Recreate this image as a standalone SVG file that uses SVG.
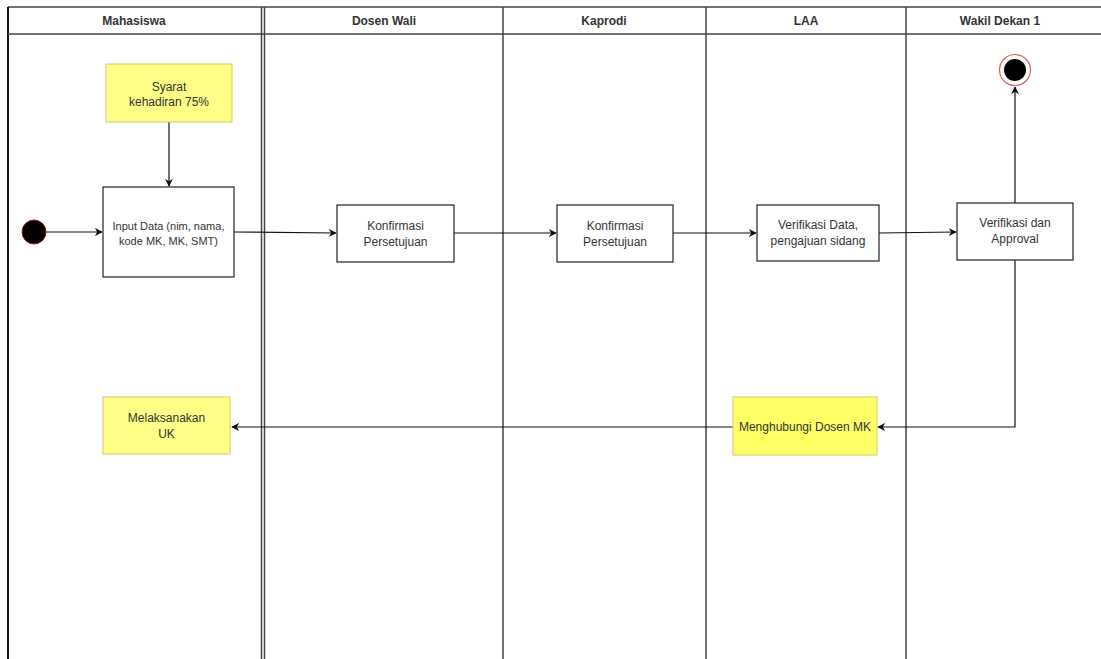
<svg xmlns="http://www.w3.org/2000/svg" width="1101" height="659" viewBox="0 0 1101 659">
<style>
.lane{fill:none;stroke:#444;stroke-width:1.5}
.hdr{font-family:"Liberation Sans",Arial,sans-serif;font-size:12px;font-weight:bold;fill:#333;text-anchor:middle}
.box{fill:#fff;stroke:#222;stroke-width:1.2}
.note{fill:#ffff88;stroke:#d6c86a;stroke-width:1}
.t{font-family:"Liberation Sans",Arial,sans-serif;font-size:12px;fill:#333;text-anchor:middle}
.c{fill:none;stroke:#111;stroke-width:1.2}
</style>
<defs>
<marker id="ah" viewBox="0 0 10 10" refX="9" refY="5" markerWidth="8" markerHeight="8" markerUnits="userSpaceOnUse" orient="auto">
<path d="M0,0 L10,5 L0,10 L3,5 Z" fill="#111"/>
</marker>
</defs>
<rect width="1101" height="659" fill="#fff"/>
<g id="lanes">
<line class="lane" x1="8" y1="7" x2="1101" y2="7"/>
<line class="lane" x1="8" y1="7" x2="8" y2="659" style="stroke:#111;stroke-width:2"/>
<line class="lane" x1="8" y1="34" x2="1101" y2="34"/>
<line class="lane" x1="261.5" y1="7" x2="261.5" y2="659"/>
<line class="lane" x1="264.5" y1="7" x2="264.5" y2="659"/>
<line class="lane" x1="503" y1="7" x2="503" y2="659"/>
<line class="lane" x1="706" y1="7" x2="706" y2="659"/>
<line class="lane" x1="906" y1="7" x2="906" y2="659"/>
<text class="hdr" x="134" y="25">Mahasiswa</text>
<text class="hdr" x="384" y="25">Dosen Wali</text>
<text class="hdr" x="604" y="25">Kaprodi</text>
<text class="hdr" x="806" y="25">LAA</text>
<text class="hdr" x="1000" y="25">Wakil Dekan 1</text>
</g>
<g id="connectors">
<line class="c" x1="46" y1="232" x2="102" y2="232" marker-end="url(#ah)"/>
<line class="c" x1="169" y1="122" x2="169" y2="186" marker-end="url(#ah)"/>
<line class="c" x1="234" y1="232" x2="336" y2="233" marker-end="url(#ah)"/>
<line class="c" x1="454" y1="233" x2="556" y2="233" marker-end="url(#ah)"/>
<line class="c" x1="673" y1="233" x2="756" y2="233" marker-end="url(#ah)"/>
<line class="c" x1="879" y1="233" x2="956" y2="232" marker-end="url(#ah)"/>
<line class="c" x1="1015" y1="203" x2="1015" y2="87" marker-end="url(#ah)"/>
<polyline class="c" points="1015,260 1015,427 878,427" marker-end="url(#ah)"/>
<line class="c" x1="733" y1="427" x2="232" y2="427" marker-end="url(#ah)"/>
</g>
<g id="start">
<circle cx="34" cy="232" r="12" fill="#000" stroke="#8b1a1a" stroke-width="1"/>
</g>
<g id="end">
<circle cx="1015" cy="70" r="15.5" fill="#fff" stroke="#e06060" stroke-width="1.2"/>
<circle cx="1015" cy="70" r="11" fill="#000"/>
</g>
<g id="syarat">
<rect class="note" x="106" y="64" width="126" height="58"/>
<text class="t" x="169" y="91">Syarat</text>
<text class="t" x="169" y="106">kehadiran 75%</text>
</g>
<g id="input">
<rect class="box" x="103" y="187" width="131" height="90"/>
<text class="t" x="168.5" y="230" style="font-size:11px">Input Data (nim, nama,</text>
<text class="t" x="168.5" y="245" style="font-size:11px">kode MK, MK, SMT)</text>
</g>
<g id="konf1">
<rect class="box" x="337" y="205" width="117" height="57"/>
<text class="t" x="395.5" y="230">Konfirmasi</text>
<text class="t" x="395.5" y="246">Persetujuan</text>
</g>
<g id="konf2">
<rect class="box" x="557" y="205" width="116" height="57"/>
<text class="t" x="615" y="230">Konfirmasi</text>
<text class="t" x="615" y="246">Persetujuan</text>
</g>
<g id="verif">
<rect class="box" x="757" y="205" width="122" height="56"/>
<text class="t" x="818" y="229">Verifikasi Data,</text>
<text class="t" x="818" y="245">pengajuan sidang</text>
</g>
<g id="approval">
<rect class="box" x="957" y="203" width="116" height="57"/>
<text class="t" x="1015" y="227">Verifikasi dan</text>
<text class="t" x="1015" y="243">Approval</text>
</g>
<g id="menghubungi">
<rect class="note" x="733" y="397" width="144" height="58" style="fill:#ffff66"/>
<text class="t" x="805" y="431">Menghubungi Dosen MK</text>
</g>
<g id="melaksanakan">
<rect class="note" x="103" y="397" width="127" height="57"/>
<text class="t" x="166.5" y="422">Melaksanakan</text>
<text class="t" x="166.5" y="438">UK</text>
</g>
</svg>
